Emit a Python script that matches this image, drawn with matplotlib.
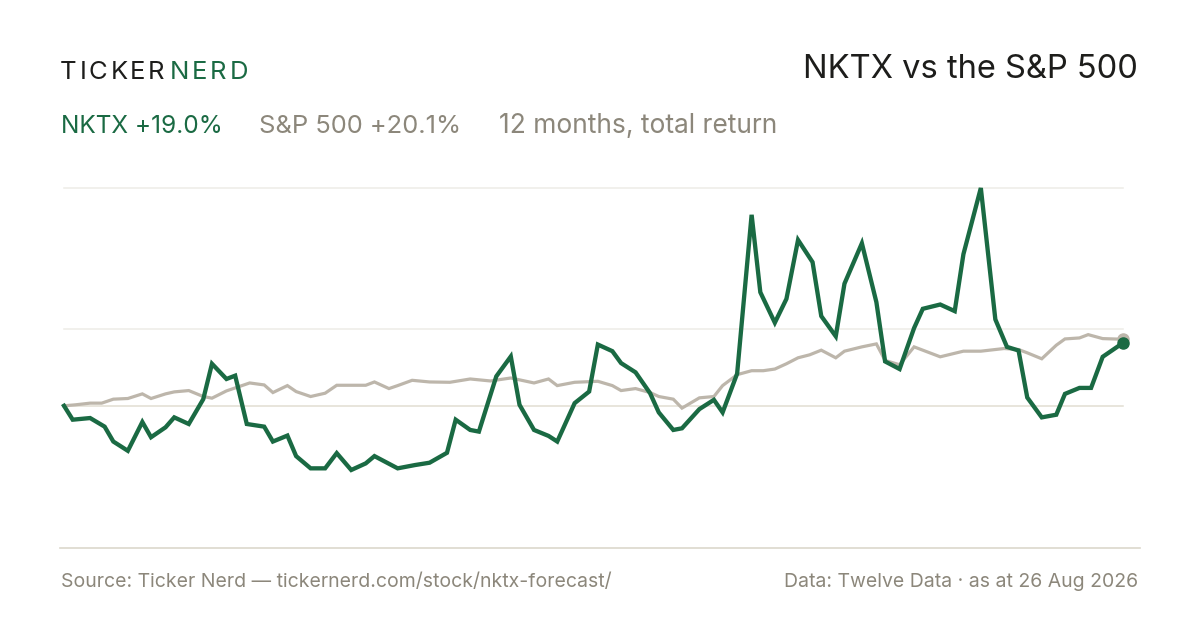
import matplotlib
matplotlib.use("Agg")
import matplotlib.pyplot as plt

# === data (day of the 12-month window, total return in %) ===
nktx_days = [0, 3, 9, 14, 17, 22, 27, 30, 35, 38, 43, 48, 51, 56, 59, 63, 69, 72, 77, 80,
             85, 90, 94, 99, 104, 107, 115, 121, 126, 132, 135, 140, 143, 149, 154, 157,
             162, 167, 170, 176, 181, 184, 189, 192, 197, 202, 205, 210, 213, 219, 224,
             227, 232, 237, 240, 245, 249, 253, 258, 261, 266, 269, 275, 280, 283, 288,
             293, 296, 302, 307, 310, 316, 321, 325, 329, 332, 337, 342, 345, 350, 354,
             358, 365]
nktx_ret = [0.0, -4.2, -3.7, -6.3, -10.8, -13.6, -4.9, -9.5, -6.5, -3.5, -5.5, 2.0, 12.7,
            8.1, 9.1, -5.5, -6.3, -10.8, -9.0, -15.2, -18.9, -18.9, -14.3, -19.4, -17.4,
            -15.2, -18.9, -17.9, -17.2, -14.2, -4.2, -7.3, -7.8, 8.9, 14.9, 0.3, -7.3,
            -9.1, -10.8, 0.8, 4.3, 18.5, 16.5, 12.9, 10.1, 3.8, -2.0, -7.3, -6.8, -1.0,
            1.8, -2.0, 9.7, 57.7, 34.3, 25.1, 32.3, 50.1, 43.4, 27.1, 21.0, 36.9, 49.1,
            31.3, 13.4, 11.1, 23.5, 29.3, 30.6, 28.6, 45.8, 65.8, 26.1, 17.8, 16.7, 2.5,
            -3.5, -2.7, 3.6, 5.4, 5.4, 14.8, 19.0]

spx_days = [0, 4, 9, 13, 17, 22, 27, 30, 35, 38, 43, 48, 51, 56, 59, 64, 69, 72, 77, 80,
            85, 90, 94, 104, 107, 112, 115, 120, 126, 133, 140, 147, 154, 162, 167, 170,
            176, 184, 189, 192, 197, 202, 205, 210, 213, 219, 224, 227, 232, 237, 241,
            245, 249, 253, 257, 261, 266, 269, 275, 280, 283, 288, 293, 302, 310, 316,
            324, 329, 332, 337, 342, 345, 350, 353, 358, 365]
spx_ret = [0.0, 0.3, 0.8, 0.8, 2.0, 2.2, 3.6, 2.2, 3.6, 4.2, 4.6, 2.8, 2.3, 4.5, 5.4, 6.9,
           6.3, 4.0, 6.1, 4.3, 2.8, 3.8, 6.2, 6.2, 7.2, 5.2, 6.1, 7.7, 7.2, 7.1, 8.1, 7.5,
           8.4, 6.9, 8.1, 6.1, 7.1, 7.4, 6.1, 4.6, 5.2, 4.0, 2.8, 2.0, -0.7, 2.4, 2.8, 6.1,
           9.4, 10.6, 10.6, 11.1, 12.7, 14.5, 15.4, 16.8, 14.5, 16.5, 17.8, 18.7, 13.7,
           12.4, 17.8, 14.8, 16.5, 16.5, 17.3, 17.0, 16.0, 14.2, 18.3, 20.2, 20.5, 21.5,
           20.3, 20.1]

GREEN = "#1a6a43"
SAND = "#bdb6ab"
MUTED = "#8c877b"
INK = "#1d1d1b"

plt.rcParams['font.family'] = ['Inter', 'DejaVu Sans']

W, H = 1200, 630
fig = plt.figure(figsize=(12, 6.3), dpi=100)
fig.patch.set_facecolor("white")


def fx(x):
    return x / W


def fy(y):
    return 1 - y / H


# plot area: x 64..1123 px, y 188..470 px
ymax = max(nktx_ret)
ymin = min(nktx_ret)
ax = fig.add_axes([fx(64), fy(470), fx(1123 - 64), (470 - 188) / H])
ax.set_xlim(0, 365)
ax.set_ylim(ymin, ymax)
ax.axis("off")

for v in [ymax, (ymax + ymin) / 2]:
    ax.axhline(v, color="#eeece7", lw=1.1, zorder=1, clip_on=False)
ax.axhline(0, color="#e2ded2", lw=1.1, zorder=1, clip_on=False)

ax.plot(spx_days, spx_ret, color=SAND, lw=2.3, solid_joinstyle="miter", zorder=2, clip_on=False)
ax.plot(nktx_days, nktx_ret, color=GREEN, lw=3.1, solid_joinstyle="miter", zorder=3, clip_on=False)
ax.plot(spx_days[-1], spx_ret[-1], "o", color=SAND, ms=8, zorder=4, clip_on=False)
ax.plot(nktx_days[-1], nktx_ret[-1], "o", color=GREEN, ms=8, zorder=5, clip_on=False)

# separator above footer
fig.add_artist(plt.Line2D([fx(60), fx(1140)], [fy(548), fy(548)], color="#dcd8cc", lw=1.2))

# brand with letter spacing
renderer = fig.canvas.get_renderer()


def tracked(x, y, s, color, size, track):
    for ch in s:
        t = fig.text(fx(x), fy(y), ch, color=color, fontsize=size, va="baseline", ha="left")
        bb = t.get_window_extent(renderer=renderer)
        x += bb.width + track
    return x


xx = tracked(60, 79, "TICKER", INK, 18.5, 2.7)
tracked(xx + 2.5, 79, "NERD", GREEN, 18.5, 2.7)

fig.text(fx(1138), fy(78), "NKTX vs the S&P 500", color=INK, fontsize=23.5,
         ha="right", va="baseline")

fig.text(fx(61), fy(133), "NKTX +19.0%", color=GREEN, fontsize=17.6, va="baseline")
fig.text(fx(259), fy(133), "S&P 500 +20.1%", color=MUTED, fontsize=18.4, va="baseline")
fig.text(fx(499), fy(133), "12 months, total return", color=MUTED, fontsize=19, va="baseline")

fig.text(fx(61), fy(587), "Source: Ticker Nerd \u2014 tickernerd.com/stock/nktx-forecast/",
         color=MUTED, fontsize=14, va="baseline")
fig.text(fx(1138), fy(587), "Data: Twelve Data \u00b7 as at 26 Aug 2026",
         color=MUTED, fontsize=14, va="baseline", ha="right")

fig.savefig("out.png", dpi=100, facecolor="white")
